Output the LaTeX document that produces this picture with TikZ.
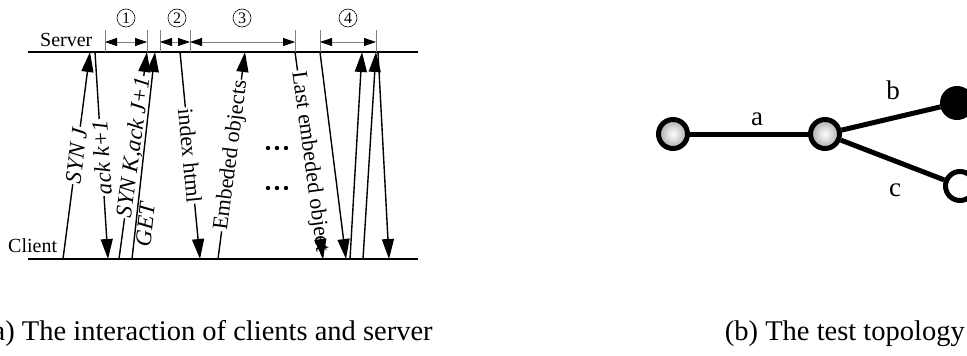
\documentclass[tikz,border=0pt]{standalone}
\usepackage{fontspec}
\setmainfont{Liberation Serif}
\usetikzlibrary{arrows.meta,calc}
\pgfdeclareradialshading{myball}{\pgfpoint{0bp}{0bp}}{color(0bp)=(white!95!gray); color(6bp)=(white!85!gray); color(46bp)=(gray!75!black); color(50bp)=(gray!75!black)}
\begin{document}
\begin{tikzpicture}[x=1pt,y=-1pt,
  timeline/.style={line width=2pt},
  msg/.style={line width=1.4pt,-{Triangle[length=20pt,width=12pt]}},
  msgrev/.style={line width=1.4pt,{Triangle[length=20pt,width=12pt]}-},
  lbl/.style={fill=white,inner sep=1pt,sloped,font=\fontsize{22}{22}\selectfont},
  ilbl/.style={fill=white,inner sep=1pt,sloped,font=\fontsize{23}{23}\selectfont\itshape},
  tickline/.style={gray,line width=0.8pt},
  dimarrow/.style={gray,line width=0.8pt,{Triangle[length=12pt,width=8pt,color=black]}-{Triangle[length=12pt,width=8pt,color=black]}},
  numc/.style={circle,draw,line width=0.6pt,minimum size=18pt,inner sep=0pt,font=\fontsize{16}{16}\selectfont},
  side/.style={inner sep=0pt,anchor=base west,font=\fontsize{20}{20}\selectfont},
  caption/.style={inner sep=0pt,font=\fontsize{28.5}{28.5}\selectfont},
  topo/.style={circle,draw,line width=5pt,minimum size=29pt,inner sep=0pt},
  graynode/.style={topo,shading=myball},
  edge/.style={line width=5pt},
  elbl/.style={inner sep=0pt,font=\fontsize{27}{27}\selectfont}
]
\useasboundingbox (0,0) rectangle (967,356);
\clip (0,0) rectangle (967,356);

% ---------- (a) ----------
\coordinate (sL) at (28,52);  \coordinate (sR) at (418,52);
\coordinate (cL) at (28,259); \coordinate (cR) at (418,259);
\draw[timeline] (sL) -- (sR);
\draw[timeline] (cL) -- (cR);
\node[side] (server) at (40,46) {Server};
\node[side] (client) at (8,252) {Client};

% ticks and dimension arrows
\foreach \x/\n in {105/1,147/2,160/3,190/4,295/5,320/6,376/7}{
  \coordinate (tt\n) at (\x,30);
  \coordinate (tb\n) at (\x,52);
  \coordinate (tm\n) at (\x,42);
  \draw[tickline] (tt\n) -- (tb\n);
}
\draw[dimarrow] (tm1) -- (tm2);
\draw[dimarrow] (tm3) -- (tm4);
\draw[dimarrow] (tm4) -- (tm5);
\draw[dimarrow] (tm6) -- (tm7);
\node[numc] (n1) at (126,18) {1};
\node[numc] (n2) at (177,18) {2};
\node[numc] (n3) at (242,18) {3};
\node[numc] (n4) at (348,18) {4};

% message endpoints
\coordinate (a1) at (63,259);  \coordinate (b1) at (90,52);
\coordinate (a2) at (108,259); \coordinate (b2) at (95,52);
\coordinate (a3) at (119,259); \coordinate (b3) at (147,52);
\coordinate (a4) at (132,259); \coordinate (b4) at (155,52);
\coordinate (b5) at (180,52);  \coordinate (a5) at (200,259);
\coordinate (a6) at (218,259); \coordinate (b6) at (245,52);
\coordinate (b7) at (295,52);  \coordinate (a7) at (323,259);
\coordinate (b8) at (320,52);  \coordinate (a8) at (346,259);
\coordinate (a9) at (350,259); \coordinate (b9) at (362,52);
\coordinate (a10) at (363,259); \coordinate (b10) at (376,52);
\coordinate (b11) at (378,52); \coordinate (a11) at (389,259);

\draw[msg] (a1) -- node[ilbl,pos=0.5] (l1) {SYN J} (b1);
\draw[msgrev] (a2) -- node[ilbl,pos=0.49,allow upside down] (l2) {ack k+1} (b2);
\draw[msg] (a3) -- node[ilbl,pos=0.54] (l3) {SYN K,ack J+1} (b3);
\draw[msg] (a4) -- node[ilbl,pos=0.17,anchor=north,fill=none] (l4) {GET} (b4);
\draw[msg] (b5) -- node[lbl,pos=0.5] (l5) {index html} (a5);
\draw[msg] (a6) -- node[lbl,pos=0.5] (l6) {Embeded objects} (b6);
\draw[msg] (b7) -- node[lbl,pos=0.53] (l7) {Last embeded object} (a7);
\draw[msg] ($(b7)!0.9!(a7)$) -- (a7);
\draw[msg] (b8) -- (a8);
\draw[msg] (a9) -- (b9);
\draw[msg] (a10) -- (b10);
\draw[msg] (b11) -- (a11);

% dots
\foreach \y in {148,188}{
  \foreach \x in {268,277,286}{
    \fill (\x,\y) circle (2.2);
  }
}

\node[caption,anchor=base west] (capa) at (-17,340) {(a) The interaction of clients and server};

% ---------- (b) ----------
\node[graynode] (v1) at (673,134) {};
\node[graynode] (v2) at (825,134) {};
\node[topo,fill=black] (v3) at (957,103) {};
\node[topo,fill=white] (v4) at (960,186) {};
\draw[edge] (v1) -- (v2);
\draw[edge] (v2) -- (v3);
\draw[edge] (v2) -- (v4);
\node[elbl] (la) at (757,119) {a};
\node[elbl] (lb) at (893,90) {b};
\node[elbl] (lc) at (895,190) {c};

\node[caption,anchor=base east] (capb) at (965,340) {(b) The test topology};
\end{tikzpicture}
\end{document}
